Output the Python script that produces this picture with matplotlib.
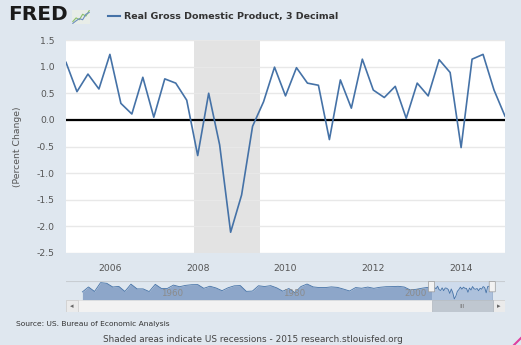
import numpy as np
import matplotlib.pyplot as plt
from matplotlib.patches import Rectangle, FancyBboxPatch

# --- data: real GDP, percent change from previous quarter, 2005Q1 - 2015Q1 ---
start_year = 2005.0
gdp_pct = [1.08, 0.53, 0.86, 0.58, 1.23, 0.31, 0.11, 0.80, 0.05, 0.77,
           0.69, 0.37, -0.67, 0.50, -0.47, -2.11, -1.41, -0.12, 0.34, 0.99,
           0.45, 0.98, 0.69, 0.65, -0.37, 0.75, 0.22, 1.14, 0.56, 0.42,
           0.63, 0.03, 0.69, 0.45, 1.13, 0.89, -0.52, 1.14, 1.23, 0.56,
           0.07]
recession = (2007.917, 2009.417)
year_ticks = [2006, 2008, 2010, 2012, 2014]
y_ticks = [1.5, 1.0, 0.5, 0.0, -0.5, -1.0, -1.5, -2.0, -2.5]

# navigator: rough annual growth 1947-2004 (percent per year)
nav_years = list(range(1947, 2005))
nav_annual = [-1.1, 4.1, -0.6, 8.7, 8.0, 4.1, 4.7, -0.6, 7.1, 2.1,
              2.1, -0.7, 6.9, 2.6, 2.6, 6.1, 4.4, 5.8, 6.5, 6.6,
              2.7, 4.9, 3.1, 0.2, 3.3, 5.3, 5.6, -0.5, -0.2, 5.4,
              4.6, 5.5, 3.2, -0.3, 2.5, -1.8, 4.6, 7.2, 4.2, 3.5,
              3.5, 4.2, 3.7, 1.9, -0.1, 3.5, 2.8, 4.0, 2.7, 3.8,
              4.4, 4.5, 4.8, 4.1, 1.0, 1.7, 2.9, 3.8]
nav_labels = [1960, 1980, 2000]

x = start_year + 0.25 * np.arange(len(gdp_pct))

bg = '#DFE7EF'
blue = '#4572A7'
W, H = 521, 345

fig = plt.figure(figsize=(W / 100, H / 100), dpi=100, facecolor=bg)

def fx(px):
    return px / W

def fy(py):
    return 1 - py / H

# --- main chart ---
ax = fig.add_axes([fx(66), fy(253), fx(505 - 66), (253 - 40) / H])
ax.set_facecolor('white')
ax.axvspan(recession[0], recession[1], color='#E3E3E3', zorder=0, lw=0)
for yv in y_ticks:
    ax.axhline(yv, color='#E8E8E8', lw=1, zorder=0.5)
ax.axhline(0, color='black', lw=1.6, zorder=2)
ax.plot(x, gdp_pct, color=blue, lw=1.2, zorder=3)
ax.set_xlim(2005, 2015)
ax.set_ylim(-2.5, 1.5)
ax.set_xticks(year_ticks)
ax.set_xticklabels([str(v) for v in year_ticks])
ax.set_yticks(y_ticks)
ax.set_yticklabels([f'{v:.1f}' for v in y_ticks])
ax.tick_params(length=0, labelsize=6.7, colors='#555555', pad=8)
for s in ax.spines.values():
    s.set_visible(False)
ax.set_ylabel('(Percent Change)', fontsize=6.7, color='#555555', labelpad=11)

# --- header ---
fig.text(fx(8), fy(15), 'FRED', fontsize=14.5, fontweight='heavy',
         color='#1A1A1A', va='center', ha='left')
icon = fig.add_axes([fx(72), fy(24), fx(18), 14 / H])
icon.set_facecolor('#E8EDE8')
icon.plot([0, 1, 2, 3, 4, 5], [1, 2, 1.5, 3, 2.5, 4], color='#8BBF6A', lw=0.8)
icon.plot([0, 1, 2, 3, 4, 5], [0.5, 1.2, 1.8, 1.5, 3, 3.5], color='#6C8EBF', lw=0.8)
icon.set_xticks([]); icon.set_yticks([])
for s in icon.spines.values():
    s.set_visible(False)
fig.lines.append(plt.Line2D([fx(108), fx(120)], [fy(16), fy(16)],
                            transform=fig.transFigure, color=blue, lw=1.5))
fig.text(fx(124), fy(16), 'Real Gross Domestic Product, 3 Decimal',
         fontsize=6.8, fontweight='bold', color='#333333', va='center')

# --- navigator ---
nav = fig.add_axes([fx(66), fy(300), fx(505 - 66), (300 - 281) / H])
nav.set_facecolor(bg)
nx = [yr + 0.5 for yr in nav_years] + list(x)
ny = [v / 4 for v in nav_annual] + gdp_pct
nav.set_xlim(1944.8, 2017.1)
nav.set_ylim(-2.4, 2.6)
nav.fill_between(nx, ny, -2.4, color='#8DA6C9', lw=0)
nav.plot(nx, ny, color=blue, lw=0.6)
nav.axvspan(x[0], x[-1], color='#C3D4EA', alpha=0.6, lw=0)
for lab in nav_labels:
    nav.text(lab + 0.5, -0.6, str(lab), fontsize=6.3, color='#8B8B8B',
             va='center', ha='left')
nav.axhline(2.6, color='#C8CDD2', lw=0.8)
nav.set_xticks([]); nav.set_yticks([])
for s in nav.spines.values():
    s.set_visible(False)
for hx in (x[0], x[-1]):
    nav.add_patch(FancyBboxPatch((hx - 0.45, -0.2), 0.9, 2.6,
                                 boxstyle='round,pad=0.05', fc='#F2F2F2',
                                 ec='#999999', lw=0.5, zorder=5))

# scrollbar
sb = fig.add_axes([fx(66), fy(312), fx(505 - 66), 12 / H])
sb.set_xlim(0, 505 - 66)
sb.set_ylim(0, 1)
sb.add_patch(Rectangle((0, 0), 439, 1, fc='#F2F2F2', ec='#DDDDDD', lw=0.5))
sb.add_patch(Rectangle((0, 0), 12, 1, fc='#EBEBEB', ec='#CCCCCC', lw=0.5))
sb.add_patch(Rectangle((427, 0), 12, 1, fc='#EBEBEB', ec='#CCCCCC', lw=0.5))
sb.add_patch(Rectangle((366, 0), 61, 1, fc='#BFC7D0', ec='#B0B8C0', lw=0.5))
sb.text(6, 0.5, '◂', fontsize=5, color='#666666', ha='center', va='center')
sb.text(433, 0.5, '▸', fontsize=5, color='#666666', ha='center', va='center')
sb.text(396.5, 0.5, 'III', fontsize=4.5, color='#777777', ha='center', va='center')
sb.axis('off')

# --- footer ---
fig.text(fx(16), fy(324), 'Source: US. Bureau of Economic Analysis',
         fontsize=5.4, color='#333333', va='center')
fig.text(fx(253), fy(339), 'Shaded areas indicate US recessions - 2015 research.stlouisfed.org',
         fontsize=6.4, color='#444444', va='center', ha='center')
fig.lines.append(plt.Line2D([fx(514), fx(521)], [fy(345), fy(338)],
                            transform=fig.transFigure, color='#E040A0', lw=1.5))

fig.savefig('out.png', dpi=100, facecolor=bg)
